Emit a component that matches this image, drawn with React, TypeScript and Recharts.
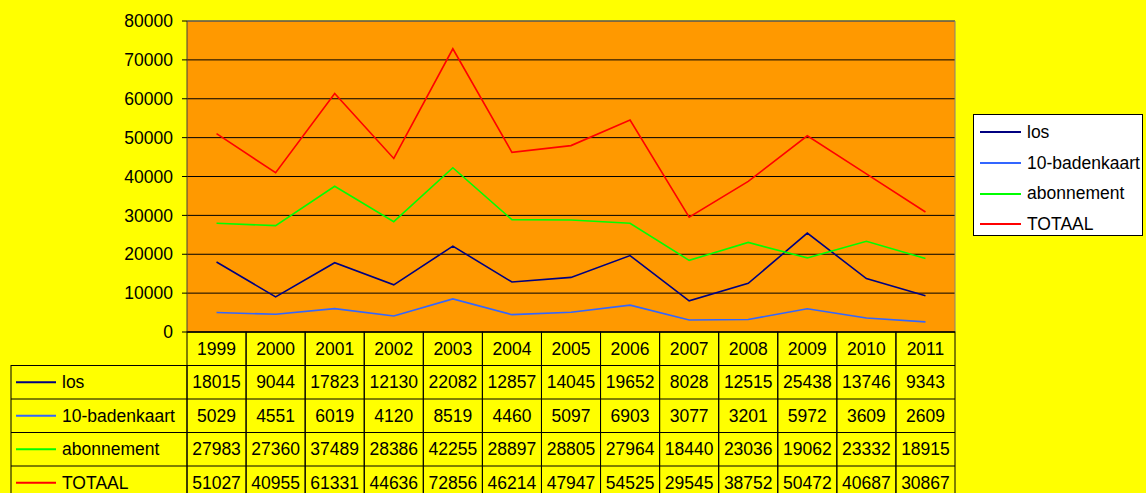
import { CartesianGrid, Customized, Legend, Line, LineChart, XAxis, YAxis } from "recharts";

const years = ["1999", "2000", "2001", "2002", "2003", "2004", "2005", "2006", "2007", "2008", "2009", "2010", "2011"];
const los = [18015, 9044, 17823, 12130, 22082, 12857, 14045, 19652, 8028, 12515, 25438, 13746, 9343];
const badenkaart = [5029, 4551, 6019, 4120, 8519, 4460, 5097, 6903, 3077, 3201, 5972, 3609, 2609];
const abonnement = [27983, 27360, 37489, 28386, 42255, 28897, 28805, 27964, 18440, 23036, 19062, 23332, 18915];
const totaal = [51027, 40955, 61331, 44636, 72856, 46214, 47947, 54525, 29545, 38752, 50472, 40687, 30867];
const yTicks = [0, 10000, 20000, 30000, 40000, 50000, 60000, 70000, 80000];

const series = [
    { key: "los", name: "los", color: "#000080", values: los },
    { key: "badenkaart", name: "10-badenkaart", color: "#3366FF", values: badenkaart },
    { key: "abonnement", name: "abonnement", color: "#00FF00", values: abonnement },
    { key: "totaal", name: "TOTAAL", color: "#FF0000", values: totaal },
];

const data = years.map((year, i) => {
    const row: Record<string, string | number> = { year };
    series.forEach((s) => {
        row[s.key] = s.values[i];
    });
    return row;
});

const W = 1146;
const H = 493;
const PLOT_LEFT = 187;
const PLOT_RIGHT = 955;
const PLOT_TOP = 21;
const PLOT_BOTTOM = 332;
const COL = (PLOT_RIGHT - PLOT_LEFT) / years.length;
const ROW = 33.5;
const TABLE_LEFT = 11;
const FONT = 17.5;

// one table column under each category: year + the four values
function TableColumn(props: any) {
    const { x, index } = props;
    const left = x - COL / 2;
    const top = PLOT_BOTTOM;
    return (
        <g>
            <rect x={left} y={top} width={COL} height={ROW * 5} fill="none" stroke="#000" strokeWidth={1} />
            <text x={x} y={top + ROW / 2} textAnchor="middle" dominantBaseline="central" fontSize={FONT} fill="#000">
                {years[index]}
            </text>
            {series.map((s, r) => (
                <g key={s.key}>
                    <line x1={left} x2={left + COL} y1={top + ROW * (r + 1)} y2={top + ROW * (r + 1)} stroke="#000" />
                    <text
                        x={x}
                        y={top + ROW * (r + 1) + ROW / 2}
                        textAnchor="middle"
                        dominantBaseline="central"
                        fontSize={FONT}
                        fill="#000"
                    >
                        {s.values[index]}
                    </text>
                </g>
            ))}
        </g>
    );
}

function TableLabels() {
    const top = PLOT_BOTTOM + ROW;
    return (
        <g>
            <line x1={PLOT_LEFT} x2={PLOT_RIGHT} y1={PLOT_TOP} y2={PLOT_TOP} stroke="#808080" />
            <line x1={PLOT_RIGHT} x2={PLOT_RIGHT} y1={PLOT_TOP} y2={PLOT_BOTTOM} stroke="#808080" />
            <rect
                x={TABLE_LEFT}
                y={top}
                width={PLOT_LEFT - TABLE_LEFT}
                height={ROW * series.length}
                fill="none"
                stroke="#000"
            />
            {series.map((s, r) => {
                const cy = top + ROW * r + ROW / 2;
                return (
                    <g key={s.key}>
                        <line x1={TABLE_LEFT} x2={PLOT_LEFT} y1={top + ROW * r} y2={top + ROW * r} stroke="#000" />
                        <line x1={16} x2={56} y1={cy} y2={cy} stroke={s.color} strokeWidth={2} />
                        <text x={62} y={cy} dominantBaseline="central" fontSize={FONT} fill="#000">
                            {s.name}
                        </text>
                    </g>
                );
            })}
        </g>
    );
}

// legend keeps the series order (recharts would sort it by name)
function LegendBox() {
    return (
        <div
            style={{
                border: "1px solid #000",
                background: "#fff",
                width: 170,
                height: 122,
                boxSizing: "border-box",
                padding: "2px 0 0 6px",
            }}
        >
            {series.map((s) => (
                <div
                    key={s.key}
                    style={{ display: "flex", alignItems: "center", height: 30.7, fontSize: FONT, color: "#000" }}
                >
                    <span
                        style={{
                            display: "inline-block",
                            width: 41,
                            height: 2,
                            background: s.color,
                            marginRight: 6,
                        }}
                    />
                    {s.name}
                </div>
            ))}
        </div>
    );
}

export default function App() {
    return (
        <div
            style={{
                position: "absolute",
                left: 0,
                top: 0,
                width: W,
                height: H,
                background: "#FFFF00",
                fontFamily: "'Liberation Sans', Arial, sans-serif",
                overflow: "hidden",
            }}
        >
            <LineChart
                width={W}
                height={H}
                data={data}
                margin={{ top: PLOT_TOP, right: W - PLOT_RIGHT, left: 0, bottom: 0 }}
            >
                <CartesianGrid vertical={false} fill="#FF9900" stroke="#000" strokeOpacity={1} />
                <XAxis
                    dataKey="year"
                    height={H - PLOT_BOTTOM}
                    padding={{ left: COL / 2, right: COL / 2 }}
                    axisLine={{ stroke: "#000" }}
                    tickLine={false}
                    tickSize={0}
                    tickMargin={0}
                    interval={0}
                    tick={<TableColumn />}
                />
                <YAxis
                    width={PLOT_LEFT}
                    domain={[0, 80000]}
                    ticks={yTicks}
                    interval={0}
                    axisLine={{ stroke: "#404040" }}
                    tickLine={{ stroke: "#000" }}
                    tickSize={5}
                    tickMargin={9}
                    tick={{ fontSize: FONT, fill: "#000" }}
                />
                <Legend
                    layout="horizontal"
                    verticalAlign="middle"
                    align="center"
                    content={<LegendBox />}
                    wrapperStyle={{ left: 973, top: 114, width: 170 }}
                />
                {series.map((s) => (
                    <Line
                        key={s.key}
                        type="linear"
                        dataKey={s.key}
                        name={s.name}
                        stroke={s.color}
                        strokeWidth={1.6}
                        dot={false}
                        activeDot={false}
                        isAnimationActive={false}
                    />
                ))}
                <Customized component={<TableLabels />} />
            </LineChart>
        </div>
    );
}
